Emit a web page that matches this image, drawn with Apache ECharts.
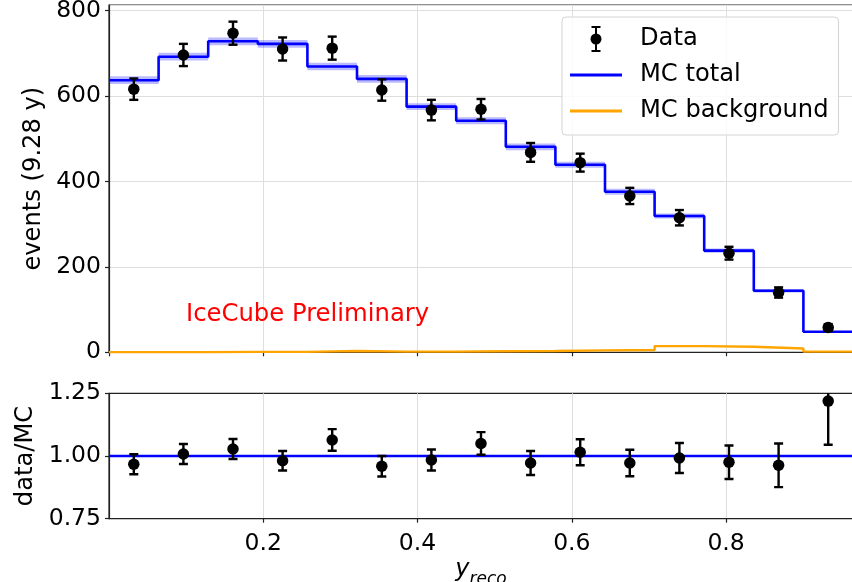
<!DOCTYPE html>
<html>
<head>
<meta charset="utf-8">
<script src="https://cdn.jsdelivr.net/npm/echarts@6/dist/echarts.min.js"></script>
<style>
  html, body { margin: 0; padding: 0; background: #fff; }
  #chart { width: 852px; height: 582px; }
</style>
</head>
<body>
<div id="chart"></div>
<script>
// Histogram binning in reconstructed inelasticity
const binEdges = [0, 0.0643, 0.1286, 0.1929, 0.2572, 0.3215, 0.3858, 0.4501,
                  0.5144, 0.5787, 0.6430, 0.7073, 0.7716, 0.8359, 0.9002, 0.9645];

// Monte Carlo expectation per bin
const mcTotal      = [637, 692, 728, 722, 669, 640, 575, 542, 481, 439, 376, 319, 238, 144, 48];
const mcTotalUnc   = [9, 9, 9, 9, 9, 9, 8, 8, 8, 7, 7, 6, 5, 4, 2];
const mcBackground = [0.5, 0.5, 1, 1, 3, 1.5, 1.5, 2.5, 3, 4.5, 5.5, 14.5, 13, 9, 1.5];

// Observed events per bin
const dataCounts = [616, 696, 747, 710, 712, 614, 567, 569, 468, 444, 366, 315, 232, 140, 58];
const dataErr    = [25, 26, 27, 27, 27, 25, 24, 24, 22, 21, 19, 18, 15, 12, 8];

// data / MC ratio per bin
const ratio    = [0.967, 1.008, 1.028, 0.981, 1.064, 0.959, 0.984, 1.05, 0.972, 1.015, 0.972, 0.992, 0.975, 0.963, 1.219];
const ratioErr = [0.04, 0.04, 0.04, 0.039, 0.043, 0.041, 0.042, 0.045, 0.048, 0.052, 0.053, 0.06, 0.067, 0.087, 0.174];

const yTicksTop = [0, 200, 400, 600, 800];
const yTicksRatio = [0.75, 1.00, 1.25];

const FONT = 'DejaVu Sans';
const X_MAX = binEdges[binEdges.length - 1];
const binCenters = mcTotal.map((_, i) => (binEdges[i] + binEdges[i + 1]) / 2);

// step outline: value i holds on [edge i, edge i+1]
const stepPoints = vals => binEdges.map((e, i) => [e, vals[Math.min(i, vals.length - 1)]]);

const bandData = mcTotal.map((v, i) => [binEdges[i], binEdges[i + 1], v - mcTotalUnc[i], v + mcTotalUnc[i]]);
const dataPoints = dataCounts.map((v, i) => [binCenters[i], v, dataErr[i]]);
const ratioPoints = ratio.map((v, i) => [binCenters[i], v, ratioErr[i]]);

function errorBarItem(params, api) {
  const x = api.value(0), y = api.value(1), e = api.value(2);
  const top = api.coord([x, y + e]);
  const bot = api.coord([x, y - e]);
  const cap = 4.5;
  const style = { stroke: '#000', lineWidth: 2.4, fill: null };
  return {
    type: 'group',
    children: [
      { type: 'line', shape: { x1: top[0], y1: top[1], x2: bot[0], y2: bot[1] }, style },
      { type: 'line', shape: { x1: top[0] - cap, y1: top[1], x2: top[0] + cap, y2: top[1] }, style },
      { type: 'line', shape: { x1: bot[0] - cap, y1: bot[1], x2: bot[0] + cap, y2: bot[1] }, style }
    ]
  };
}

function bandItem(params, api) {
  const p1 = api.coord([api.value(0), api.value(3)]);
  const p2 = api.coord([api.value(1), api.value(2)]);
  return {
    type: 'rect',
    shape: { x: p1[0], y: p1[1], width: p2[0] - p1[0], height: p2[1] - p1[1] },
    style: { fill: 'rgba(40,40,255,0.32)' }
  };
}

// legend glyphs, each spanning the full 52x26 icon box
const DATA_ICON = 'path://M0 13 L0.01 13 Z M52 13 L51.99 13 Z ' +
  'M20.5 13 A5.5 5.5 0 1 1 31.5 13 A5.5 5.5 0 1 1 20.5 13 Z ' +
  'M25 1 H27 V25 H25 Z M21.5 0 H30.5 V2 H21.5 Z M21.5 24 H30.5 V26 H21.5 Z';
const LINE_ICON = 'path://M0 0 L0.01 0 Z M0 26 L0.01 26 Z M0 11.5 H52 V14.5 H0 Z';

const axisLineStyle = { color: '#222', width: 1.2 };
const gridLineStyle = { color: '#dedede', width: 1 };
const tickFont = { fontSize: 23.5, color: '#000', fontFamily: FONT };

const option = {
  animation: false,
  backgroundColor: '#fff',
  grid: [
    { left: 109, top: 5, width: 744, height: 347.3, show: true, borderColor: '#222', borderWidth: 1.2,
      backgroundColor: 'transparent', outerBoundsMode: 'none' },
    { left: 109, top: 393.3, width: 744, height: 125.4, show: true, borderColor: '#222', borderWidth: 1.2,
      backgroundColor: 'transparent', outerBoundsMode: 'none' }
  ],
  xAxis: [
    { gridIndex: 0, type: 'value', min: 0, max: X_MAX, interval: 0.2,
      axisLine: { show: true, onZero: false, lineStyle: axisLineStyle },
      axisTick: { show: true, inside: false, length: 4, lineStyle: axisLineStyle },
      axisLabel: { show: false },
      splitLine: { show: true, lineStyle: gridLineStyle } },
    { gridIndex: 1, type: 'value', min: 0, max: X_MAX, interval: 0.2,
      axisLine: { show: true, onZero: false, lineStyle: axisLineStyle },
      axisTick: { show: true, inside: false, length: 4, lineStyle: axisLineStyle },
      axisLabel: Object.assign({ show: true, margin: 13, showMinLabel: false, showMaxLabel: false,
        formatter: v => v.toFixed(1) }, tickFont),
      splitLine: { show: true, lineStyle: gridLineStyle },
      name: '{a|y}{b|reco}', nameLocation: 'middle', nameGap: 39,
      nameTextStyle: {
        rich: {
          a: { fontStyle: 'italic', fontSize: 24, fontFamily: FONT, color: '#000', verticalAlign: 'top', lineHeight: 30 },
          b: { fontStyle: 'italic', fontSize: 17, fontFamily: FONT, color: '#000', verticalAlign: 'bottom', lineHeight: 30 }
        }
      } }
  ],
  yAxis: [
    { gridIndex: 0, type: 'value', min: 0, max: 813, interval: 200,
      axisLine: { show: true, onZero: false, lineStyle: axisLineStyle },
      axisTick: { show: true, inside: false, length: 4, lineStyle: axisLineStyle },
      axisLabel: Object.assign({ margin: 8, showMaxLabel: false,
        formatter: v => (yTicksTop.includes(v) ? String(v) : '') }, tickFont),
      splitLine: { show: true, lineStyle: gridLineStyle },
      name: 'events (9.28 y)', nameLocation: 'middle', nameGap: 58, nameRotate: 90,
      nameTextStyle: { fontSize: 24.2, color: '#000', fontFamily: FONT } },
    { gridIndex: 1, type: 'value', min: 0.75, max: 1.25, interval: 0.25,
      axisLine: { show: true, onZero: false, lineStyle: axisLineStyle },
      axisTick: { show: true, inside: false, length: 4, lineStyle: axisLineStyle },
      axisLabel: Object.assign({ margin: 8,
        formatter: v => (yTicksRatio.some(t => Math.abs(t - v) < 1e-9) ? v.toFixed(2) : '') }, tickFont),
      splitLine: { show: false },
      name: 'data/MC', nameLocation: 'middle', nameGap: 60, nameRotate: 90,
      nameTextStyle: { fontSize: 24.2, color: '#000', fontFamily: FONT } }
  ],
  legend: {
    data: [
      { name: 'Data', icon: DATA_ICON },
      { name: 'MC total', icon: LINE_ICON },
      { name: 'MC background', icon: LINE_ICON }
    ],
    orient: 'vertical', left: 562, top: 17,
    itemWidth: 52, itemHeight: 26, itemGap: 10,
    padding: [9, 10, 11, 8],
    backgroundColor: 'rgba(255,255,255,0.85)', borderColor: '#d4d4d4', borderWidth: 1, borderRadius: 4,
    textStyle: { fontSize: 24.2, color: '#000', fontFamily: FONT, padding: [0, 0, 0, 13], lineHeight: 26 },
    selectedMode: false
  },
  graphic: [
    { type: 'text', left: 186, top: 303, z: 100,
      style: { text: 'IceCube Preliminary', fill: '#ff0000', fontSize: 24.3, fontFamily: FONT } }
  ],
  series: [
    { name: 'MC band', type: 'custom', xAxisIndex: 0, yAxisIndex: 0, renderItem: bandItem,
      data: bandData, encode: { x: [0, 1], y: [2, 3] }, silent: true, z: 1 },
    { name: 'MC total', type: 'line', xAxisIndex: 0, yAxisIndex: 0, step: 'end', data: stepPoints(mcTotal),
      symbol: 'none', lineStyle: { color: '#0000ff', width: 2.6 }, itemStyle: { color: '#0000ff' }, z: 2 },
    { name: 'MC background', type: 'line', xAxisIndex: 0, yAxisIndex: 0, step: 'end', data: stepPoints(mcBackground),
      symbol: 'none', clip: false, lineStyle: { color: '#ffa500', width: 2.4 }, itemStyle: { color: '#ffa500' }, z: 3 },
    { name: 'Data errors', type: 'custom', xAxisIndex: 0, yAxisIndex: 0, renderItem: errorBarItem,
      data: dataPoints, encode: { x: 0, y: 1 }, silent: true, z: 4 },
    { name: 'Data', type: 'scatter', xAxisIndex: 0, yAxisIndex: 0, data: dataPoints.map(p => [p[0], p[1]]),
      symbol: 'circle', symbolSize: 11.5, itemStyle: { color: '#000', opacity: 1 }, z: 5 },

    { name: 'MC ratio', type: 'line', xAxisIndex: 1, yAxisIndex: 1, data: [[0, 1], [X_MAX, 1]],
      symbol: 'none', lineStyle: { color: '#0000ff', width: 2.6 }, z: 2 },
    { name: 'Ratio errors', type: 'custom', xAxisIndex: 1, yAxisIndex: 1, renderItem: errorBarItem,
      data: ratioPoints, encode: { x: 0, y: 1 }, clip: true, silent: true, z: 4 },
    { name: 'data/MC', type: 'scatter', xAxisIndex: 1, yAxisIndex: 1, data: ratioPoints.map(p => [p[0], p[1]]),
      symbol: 'circle', symbolSize: 11.5, itemStyle: { color: '#000', opacity: 1 }, z: 5 }
  ]
};

const chart = echarts.init(document.getElementById('chart'), null, { renderer: 'canvas' });
chart.setOption(option);
</script>
</body>
</html>
